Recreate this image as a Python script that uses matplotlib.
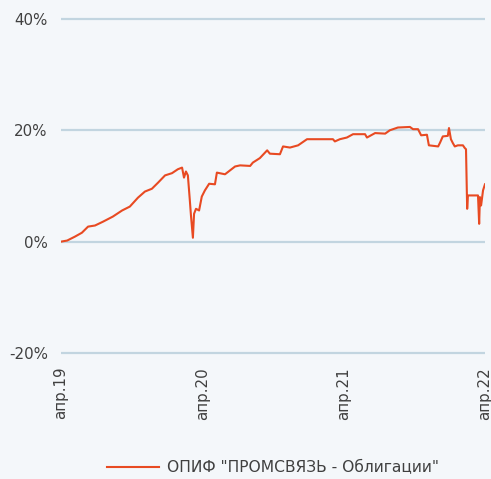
import matplotlib.pyplot as plt
import matplotlib.dates as mdates
import pandas as pd

# fund return since apr 2019, %
dates = ["2019-04-01", "2019-04-17", "2019-05-07", "2019-05-25", "2019-06-10", "2019-06-28",
         "2019-07-19", "2019-08-13", "2019-09-06", "2019-09-26", "2019-10-17", "2019-11-04",
         "2019-11-22", "2019-12-08", "2019-12-26", "2020-01-13", "2020-01-28", "2020-02-08",
         "2020-02-13", "2020-02-18", "2020-02-23", "2020-02-28", "2020-03-02", "2020-03-07",
         "2020-03-10", "2020-03-15", "2020-03-23", "2020-03-30", "2020-04-07", "2020-04-18",
         "2020-05-03", "2020-05-08", "2020-05-29", "2020-06-11", "2020-06-24", "2020-07-07",
         "2020-08-02", "2020-08-09", "2020-08-27", "2020-09-15", "2020-09-22", "2020-10-18",
         "2020-10-26", "2020-11-13", "2020-12-04", "2020-12-27", "2021-03-04", "2021-03-09",
         "2021-03-22", "2021-04-09", "2021-04-25", "2021-05-26", "2021-05-31", "2021-06-21",
         "2021-07-17", "2021-07-29", "2021-08-19", "2021-09-19", "2021-09-27", "2021-10-10",
         "2021-10-18", "2021-11-02", "2021-11-07", "2021-12-01", "2021-12-06", "2021-12-13",
         "2021-12-26", "2021-12-29", "2022-01-03", "2022-01-08", "2022-01-13", "2022-01-21",
         "2022-02-03", "2022-02-08", "2022-02-11", "2022-02-14", "2022-02-16", "2022-03-14",
         "2022-03-17", "2022-03-19", "2022-03-22", "2022-03-27", "2022-04-01"]
values = [0.0, 0.2, 0.9, 1.6, 2.7, 2.9,
          3.6, 4.5, 5.6, 6.3, 7.9, 9.0,
          9.5, 10.6, 11.9, 12.3, 13.0, 13.3,
          11.5, 12.6, 11.9, 7.5, 4.7, 0.7,
          5.0, 5.9, 5.6, 8.1, 9.2, 10.4,
          10.3, 12.4, 12.1, 12.8, 13.5, 13.7,
          13.6, 14.2, 15.0, 16.4, 15.8, 15.7,
          17.1, 16.9, 17.3, 18.4, 18.4, 18.0,
          18.4, 18.7, 19.3, 19.3, 18.7, 19.5,
          19.4, 20.0, 20.5, 20.6, 20.2, 20.2,
          19.1, 19.2, 17.3, 17.1, 17.8, 18.9,
          19.0, 20.4, 18.4, 17.7, 17.1, 17.3,
          17.3, 16.8, 16.6, 5.9, 8.3, 8.3,
          3.2, 8.0, 6.5, 9.2, 10.3]
series_name = 'ОПИФ "ПРОМСВЯЗЬ - Облигации"'
yticks = [-20, 0, 20, 40]
xticks = ["2019-04-01", "2020-04-01", "2021-04-01", "2022-04-01"]

bg = "#f4f7fa"
txt = "#404040"
plt.rcParams["font.family"] = ["DejaVu Sans"]

fig = plt.figure(figsize=(4.91, 4.79), dpi=100, facecolor=bg)
ax = fig.add_axes([0.1242, 0.2514, 0.8635, 0.7207], facecolor=bg)

x = pd.to_datetime(dates)
ax.plot(x, values, color="#e84a22", lw=1.5, label=series_name, zorder=3)

ax.set_ylim(-21, 41)
ax.set_xlim(pd.Timestamp("2019-04-01"), pd.Timestamp("2022-04-01"))
ax.set_yticks(yticks)
ax.set_yticklabels([f"{v}%" for v in yticks])
ax.set_xticks(pd.to_datetime(xticks))
ax.xaxis.set_major_formatter(mdates.DateFormatter("апр.%y"))
ax.grid(axis="y", color="#c2d5e0", lw=1.6)
ax.grid(axis="x", visible=False)
for s in ax.spines.values():
    s.set_visible(False)
ax.tick_params(length=0, labelsize=10.8, labelcolor=txt)
ax.tick_params(axis="y", pad=9.5)
ax.tick_params(axis="x", pad=6)
plt.setp(ax.get_xticklabels(), rotation=90)

fig.legend(loc="center", bbox_to_anchor=(0.556, 0.023), frameon=False,
           handlelength=3.3, handletextpad=0.5, fontsize=11.2, labelcolor=txt)

plt.savefig("out.png", dpi=100, facecolor=bg)
